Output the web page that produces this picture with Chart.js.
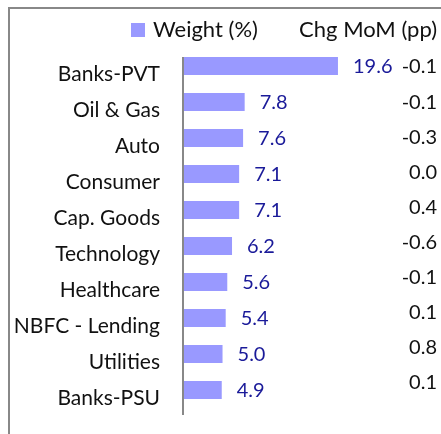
<!DOCTYPE html>
<html>
<head>
<meta charset="utf-8">
<script src="https://cdn.jsdelivr.net/npm/chart.js@4/dist/chart.umd.min.js"></script>
<style>
  html, body { margin: 0; padding: 0; background: #fff; }
  #wrap { width: 441px; height: 434px; position: relative; }
</style>
</head>
<body>
<div id="wrap"><canvas id="barChart" width="441" height="434"></canvas></div>
<script>
const sectors = [
  "Banks-PVT",
  "Oil & Gas",
  "Auto",
  "Consumer",
  "Cap. Goods",
  "Technology",
  "Healthcare",
  "NBFC - Lending",
  "Utilities",
  "Banks-PSU",
];
const weights = [19.6, 7.8, 7.6, 7.1, 7.1, 6.2, 5.6, 5.4, 5.0, 4.9];
const chgMoM = ["-0.1", "-0.1", "-0.3", "0.0", "0.4", "-0.6", "-0.1", "0.1", "0.8", "0.1"];

const FONT = "Lato, 'Open Sans', sans-serif";
const barColor = "#9999FF";
const labelColor = "#1A1A99";

// frame, axis line, legend, header, value labels and MoM column
const overlay = {
  id: "overlay",
  beforeDraw(chart) {
    const c = chart.ctx;
    c.save();
    c.strokeStyle = "#888888";
    c.lineWidth = 2;
    c.strokeRect(9, 8, 480, 480);
    c.restore();
  },
  afterDraw(chart) {
    const c = chart.ctx;
    const area = chart.chartArea;
    const ds = chart.data.datasets[0];
    const meta = chart.getDatasetMeta(0);
    c.save();

    // category axis line (sits a bit below the bars, like the original)
    c.strokeStyle = "#888888";
    c.lineWidth = 2;
    c.beginPath();
    c.moveTo(area.left, area.top + 9);
    c.lineTo(area.left, area.bottom + 7);
    c.stroke();

    c.textBaseline = "middle";

    // legend + column header
    c.fillStyle = ds.backgroundColor;
    c.fillRect(131, 23, 14, 14);
    c.fillStyle = "#111";
    c.font = "22px " + FONT;
    c.textAlign = "left";
    c.fillText(ds.label, 153, 30);
    c.textAlign = "right";
    c.fillText("Chg MoM (pp)", 437, 30);

    // values + MoM
    const y0 = meta.data[0].y;
    meta.data.forEach((bar, i) => {
      c.font = "20px " + FONT;
      c.fillStyle = labelColor;
      c.textAlign = "left";
      c.fillText(weights[i].toFixed(1), bar.x + 15, bar.y + 1);
      c.fillStyle = "#111";
      c.textAlign = "right";
      c.fillText(chgMoM[i], 437, y0 + 1 + (bar.y - y0) * 0.975);
    });
    c.restore();
  },
};

new Chart(document.getElementById("barChart"), {
  type: "bar",
  data: {
    labels: sectors,
    datasets: [
      {
        label: "Weight (%)",
        data: weights,
        backgroundColor: barColor,
        barPercentage: 0.5,
        categoryPercentage: 1,
      },
    ],
  },
  options: {
    indexAxis: "y",
    responsive: false,
    animation: false,
    layout: { padding: { top: 48, bottom: 26, left: 0, right: 5 } },
    scales: {
      x: {
        display: false,
        min: 0,
        max: 32,
      },
      y: {
        afterFit: (scale) => {
          scale.width = 183;
          scale.paddingTop = 0;
          scale.paddingBottom = 0;
        },
        grid: { display: false, drawTicks: false },
        border: { display: false },
        ticks: {
          color: "#111",
          padding: 23,
          labelOffset: 8,
          font: { family: FONT, size: 21 },
        },
      },
    },
    plugins: {
      legend: { display: false },
      tooltip: { enabled: false },
    },
  },
  plugins: [overlay],
});
</script>
</body>
</html>
